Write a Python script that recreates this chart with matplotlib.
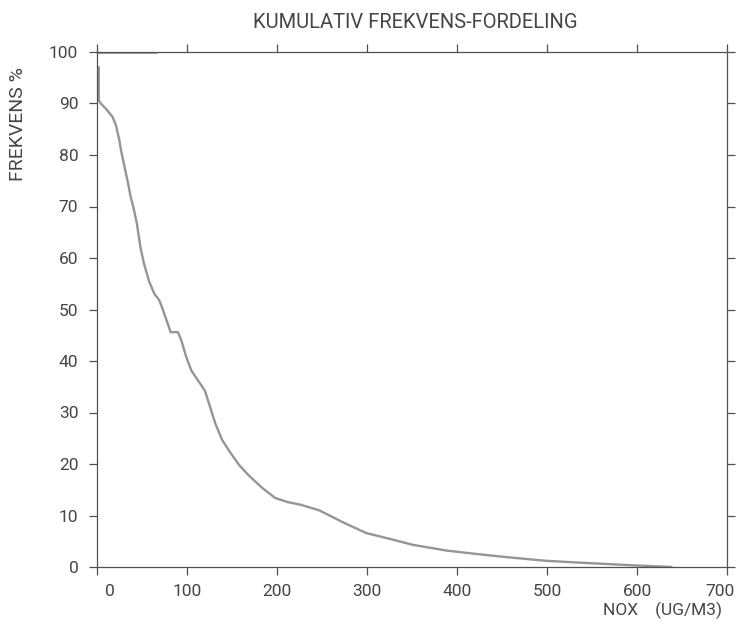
import matplotlib
matplotlib.use("Agg")
import matplotlib.pyplot as plt
import matplotlib.transforms as mtransforms

# ---- data ----
nox = [2, 2, 4.2, 9.8, 17.3, 21, 24.8, 26.7, 30.6, 34.5, 37.5, 40.4, 44.3, 48.2,
       52.2, 58, 63.6, 69.2, 72.9, 78.7, 81.8, 89.9, 93.7, 99.3, 105, 120,
       125.8, 131.6, 139, 146.6, 157.9, 169.1, 184, 198, 212, 226, 247, 273,
       299, 329, 351, 388, 423, 456, 499, 536, 599, 638]
freq = [97, 90.6, 90.0, 89.0, 87.4, 85.8, 82.9, 80.9, 77.7, 74.5, 71.8, 69.9,
        66.7, 62.1, 58.9, 55.4, 53.1, 51.8, 50.1, 47.2, 45.6, 45.6, 44.0, 40.7,
        38.1, 34.2, 31.0, 27.8, 24.7, 22.6, 19.8, 17.7, 15.3, 13.4, 12.6, 12.1,
        11.0, 8.7, 6.6, 5.3, 4.3, 3.2, 2.5, 1.9, 1.2, 0.85, 0.3, 0]
top_x = [0, 67]
top_y = [100, 100]

x_ticks = [0, 100, 200, 300, 400, 500, 600, 700]
x_labels = ["0", "100", "200", "300", "400", "500", "600", "700"]
y_ticks = [0, 10, 20, 30, 40, 50, 60, 70, 80, 90, 100]
y_labels = ["0", "10", "20", "30", "40", "50", "60", "70", "80", "90", "100"]

title = "KUMULATIV FREKVENS-FORDELING"
ylabel = "FREKVENS %"
xlabel = "NOX    (UG/M3)"

# ---- figure ----
W, H = 748, 624
plt.rcParams["font.family"] = ["Roboto", "DejaVu Sans"]
fig = plt.figure(figsize=(W / 100, H / 100), dpi=100)
ax = fig.add_axes([97 / W, 1 - 567 / H, (727 - 97) / W, (567 - 52) / H])

text_col = "#454545"
axis_col = "#505050"
curve_col = "#959595"

ax.plot(top_x, top_y, color=curve_col, lw=2.0, solid_capstyle="butt")
ax.plot(nox, freq, color=curve_col, lw=1.7, solid_joinstyle="round")

ax.set_xlim(0, 700)
ax.set_ylim(0, 100)
ax.set_xticks(x_ticks)
ax.set_xticklabels(x_labels)
ax.set_yticks(y_ticks)
ax.set_yticklabels(y_labels)

for s in ax.spines.values():
    s.set_color(axis_col)
    s.set_linewidth(0.9)

ax.tick_params(axis="both", direction="out", length=5.5, width=0.9,
               color=axis_col, labelcolor=text_col, labelsize=12.5)
ax.tick_params(axis="x", top=True, labeltop=False, pad=6.5)
ax.tick_params(axis="y", right=True, labelright=False, pad=8)

# shift first and last x labels as in the reference
lbls = ax.get_xticklabels()
lbls[0].set_transform(lbls[0].get_transform() +
                      mtransforms.ScaledTranslation(0.13, 0, fig.dpi_scale_trans))
lbls[-1].set_transform(lbls[-1].get_transform() +
                       mtransforms.ScaledTranslation(-0.07, 0, fig.dpi_scale_trans))

fig.text(415 / W, 1 - 22 / H, title, ha="center", va="center",
         fontsize=14.5, color=text_col)
fig.text(18 / W, 1 - 124 / H, ylabel, ha="center", va="center",
         rotation=90, fontsize=14, color=text_col)
fig.text(722 / W, 1 - 610 / H, xlabel, ha="right", va="center",
         fontsize=12.5, color=text_col)

fig.savefig("out.png", dpi=100)
